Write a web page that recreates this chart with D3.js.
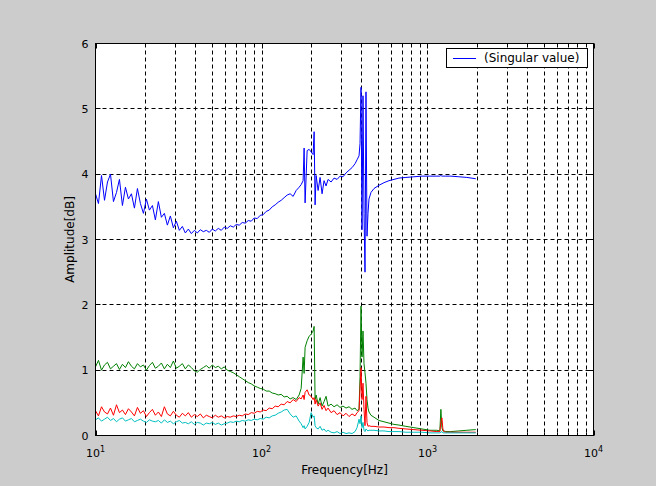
<!DOCTYPE html>
<html><head><meta charset="utf-8">
<script src="https://cdn.jsdelivr.net/npm/d3@7/dist/d3.min.js"></script>
<style>body{margin:0;background:#cccccc;}svg{display:block}</style>
</head><body>
<svg id="chart" width="656" height="486"></svg>
<script>
// ---- data ----
const freq = [
 10,10.42,10.87,11.33,11.81,12.31,12.83,13.38,13.94,14.53,
 15.15,15.79,16.46,17.16,17.89,18.65,19.44,20.26,21.12,22.02,
 22.95,23.92,24.94,26.0,27.1,28.25,29.45,30.7,32.0,33.36,
 34.77,36.25,37.79,39.39,41.06,42.8,44.62,46.51,48.49,50.54,
 52.69,54.92,57.25,59.68,62.22,64.86,67.61,70.47,73.47,76.58,
 79.83,83.22,86.75,90.43,94.27,98.27,102.4,106.7,111.3,116.0,
 120.9,126.0,131.4,136.9,142.7,148.8,155.1,161.7,168.5,
 173.3,178.1,180.6,183.1,188.3,193.6,199.0,204.6,207.5,210.3,
 213.3,219.3,225.4,231.7,238.2,244.9,251.8,262.5,273.6,285.3,
 297.4,309.9,323.1,336.8,351.1,366.0,376.3,386.9,392.2,397.7,
 403.2,408.8,414.5,420.3,426.1,432.1,438.1,444.2,456.6,476.0,
 510.4,546.9,586.2,628.1,673.0,741.6,828.4,925.4,1034,1139,
 1187,1204,1221,1238,1255,1290,1382,1545,1726,1954
];
const singularBlue = [
 3.70,3.55,3.98,3.60,3.88,4.00,3.58,3.72,3.92,3.52,
 3.80,3.62,3.70,3.48,3.78,3.55,3.40,3.62,3.45,3.52,
 3.30,3.58,3.34,3.40,3.22,3.36,3.18,3.28,3.14,3.20,
 3.10,3.16,3.09,3.14,3.10,3.15,3.12,3.14,3.11,3.16,
 3.13,3.17,3.14,3.19,3.17,3.21,3.19,3.23,3.22,3.26,
 3.25,3.29,3.28,3.33,3.32,3.37,3.38,3.43,3.45,3.50,
 3.53,3.57,3.60,3.64,3.68,3.70,3.66,3.75,3.80,
 3.84,3.90,4.40,3.56,4.36,4.38,4.34,4.30,4.65,3.53,
 3.98,3.75,3.95,3.70,3.90,3.82,3.92,3.88,3.94,3.92,
 3.97,3.96,4.02,4.06,4.10,4.16,4.22,4.28,4.47,5.33,
 3.15,5.20,3.40,2.50,5.26,3.05,3.40,3.62,3.72,3.78,
 3.83,3.87,3.90,3.92,3.94,3.95,3.96,3.97,3.97,3.97,
 3.97,3.98,3.97,3.97,3.97,3.97,3.97,3.96,3.95,3.93
];
const singularGreen = [
 1.05,1.15,1.00,1.08,1.12,1.02,1.06,1.10,1.01,1.09,
 1.04,1.13,1.06,1.02,1.10,1.05,1.08,1.00,1.07,1.12,
 1.03,1.06,1.11,1.02,1.09,1.04,1.14,1.03,1.06,1.10,
 1.02,1.08,1.04,0.99,0.97,1.01,1.04,1.07,1.03,1.08,
 1.04,1.06,1.02,1.05,1.00,0.98,0.96,0.93,0.90,0.87,
 0.84,0.81,0.79,0.76,0.74,0.72,0.71,0.68,0.68,0.65,
 0.64,0.62,0.63,0.59,0.60,0.56,0.58,0.55,0.62,
 0.72,1.20,0.95,1.35,1.45,1.52,1.55,1.60,1.67,0.55,
 0.62,0.48,0.58,0.45,0.52,0.60,0.45,0.48,0.44,0.47,
 0.43,0.45,0.42,0.44,0.40,0.42,0.38,0.40,0.90,1.98,
 1.20,1.60,1.10,0.96,0.80,0.55,0.42,0.36,0.31,0.28,
 0.23,0.21,0.19,0.17,0.16,0.14,0.12,0.10,0.08,0.08,
 0.07,0.40,0.12,0.07,0.07,0.06,0.06,0.07,0.08,0.09
];
const singularRed = [
 0.38,0.30,0.44,0.36,0.33,0.42,0.31,0.47,0.35,0.39,
 0.32,0.41,0.36,0.30,0.43,0.34,0.38,0.29,0.35,0.40,
 0.31,0.36,0.29,0.44,0.33,0.30,0.37,0.31,0.28,0.34,
 0.30,0.35,0.28,0.32,0.29,0.33,0.27,0.31,0.29,0.27,
 0.31,0.28,0.30,0.27,0.29,0.28,0.30,0.29,0.31,0.30,
 0.33,0.32,0.35,0.34,0.37,0.36,0.39,0.38,0.42,0.41,
 0.45,0.44,0.48,0.47,0.52,0.50,0.55,0.52,0.58,
 0.56,0.62,0.55,0.66,0.70,0.62,0.60,0.55,0.58,0.48,
 0.55,0.45,0.50,0.40,0.46,0.38,0.42,0.35,0.38,0.32,
 0.35,0.30,0.34,0.29,0.33,0.30,0.35,0.38,0.70,1.04,
 0.55,0.80,0.40,0.15,0.60,0.20,0.14,0.15,0.14,0.14,
 0.13,0.13,0.12,0.12,0.11,0.10,0.09,0.08,0.07,0.06,
 0.06,0.20,0.27,0.10,0.06,0.05,0.05,0.05,0.05,0.05
];
const singularCyan = [
 0.24,0.27,0.22,0.25,0.28,0.23,0.26,0.21,0.25,0.27,
 0.22,0.24,0.26,0.21,0.23,0.25,0.22,0.20,0.24,0.22,
 0.21,0.23,0.19,0.24,0.20,0.22,0.18,0.21,0.23,0.19,
 0.20,0.18,0.21,0.17,0.20,0.19,0.16,0.19,0.18,0.20,
 0.17,0.19,0.16,0.18,0.19,0.21,0.20,0.22,0.21,0.23,
 0.22,0.24,0.23,0.25,0.24,0.26,0.25,0.28,0.27,0.30,
 0.31,0.34,0.36,0.39,0.40,0.33,0.28,0.30,0.22,
 0.18,0.12,0.15,0.10,0.14,0.20,0.35,0.28,0.30,0.15,
 0.12,0.10,0.14,0.08,0.10,0.06,0.08,0.05,0.04,0.06,
 0.03,0.05,0.03,0.04,0.03,0.06,0.12,0.25,0.18,0.30,
 0.12,0.20,0.08,0.06,0.10,0.08,0.07,0.08,0.08,0.08,
 0.07,0.07,0.06,0.06,0.06,0.05,0.05,0.05,0.04,0.04,
 0.04,0.05,0.06,0.04,0.04,0.04,0.04,0.04,0.04,0.04
];
const yTickValues = [0,1,2,3,4,5,6];
const xMajorTicks = [10,100,1000,10000];
const xExponents = ["1","2","3","4"];
const xLabel = "Frequency[Hz]";
const yLabel = "Amplitude[dB]";
const legendLabel = "(Singular value)";

// ---- layout ----
const L = 95.5, R = 593.5, T = 43.5, B = 435.5;
const FONT = "'DejaVu Sans', sans-serif";
const svg = d3.select("#chart");
const x = d3.scaleLog().domain([10, 10000]).range([L, R]);
const y = d3.scaleLinear().domain([0, 6]).range([B, T]);

svg.append("rect").attr("width", 656).attr("height", 486).attr("fill", "#cccccc");
svg.append("rect").attr("x", L).attr("y", T).attr("width", R - L).attr("height", B - T).attr("fill", "#ffffff");

const minorTicks = [];
xMajorTicks.slice(0, 3).forEach(d => { for (let k = 2; k <= 9; k++) minorTicks.push(d * k); });
const gridX = minorTicks.concat([100, 1000]);

const grid = svg.append("g").attr("stroke", "#000").attr("stroke-width", 1).attr("stroke-dasharray", "4,3").attr("fill", "none");
gridX.forEach(v => {
  const px = Math.round(x(v)) + 0.5;
  grid.append("line").attr("x1", px).attr("x2", px).attr("y1", T).attr("y2", B);
});
yTickValues.slice(1, 6).forEach(v => {
  const py = Math.round(y(v) - 0.5) + 0.5;
  grid.append("line").attr("x1", L).attr("x2", R).attr("y1", py).attr("y2", py);
});

const series = [
  {vals: singularBlue, color: "#0000ff"},
  {vals: singularGreen, color: "#008000"},
  {vals: singularRed, color: "#ff0000"},
  {vals: singularCyan, color: "#00bfbf"}
];
const line = d3.line().x((d, i) => x(freq[i])).y(d => y(d));
const plot = svg.append("g");
series.forEach(s => {
  plot.append("path").attr("d", line(s.vals)).attr("fill", "none").attr("stroke", s.color).attr("stroke-width", 1);
});

const ticks = svg.append("g").attr("stroke", "#000").attr("stroke-width", 1);
xMajorTicks.forEach(v => {
  const px = Math.round(x(v)) + 0.5;
  ticks.append("line").attr("x1", px).attr("x2", px).attr("y1", B).attr("y2", B - 5);
  ticks.append("line").attr("x1", px).attr("x2", px).attr("y1", T).attr("y2", T + 5);
});
minorTicks.forEach(v => {
  const px = Math.round(x(v)) + 0.5;
  ticks.append("line").attr("x1", px).attr("x2", px).attr("y1", B).attr("y2", B - 3);
  ticks.append("line").attr("x1", px).attr("x2", px).attr("y1", T).attr("y2", T + 3);
});
yTickValues.forEach(v => {
  const py = Math.round(y(v) - 0.5) + 0.5;
  ticks.append("line").attr("x1", L).attr("x2", L + 5).attr("y1", py).attr("y2", py);
  ticks.append("line").attr("x1", R).attr("x2", R - 5).attr("y1", py).attr("y2", py);
});

svg.append("rect").attr("x", L).attr("y", T).attr("width", R - L).attr("height", B - T)
  .attr("fill", "none").attr("stroke", "#000").attr("stroke-width", 1);

svg.append("g").selectAll("text").data(yTickValues).join("text")
  .attr("x", L - 7).attr("y", d => y(d) + 4)
  .attr("text-anchor", "end").attr("font-family", FONT).attr("font-size", 11).attr("fill", "#000")
  .text(d => d);

const xl = svg.append("g").attr("font-family", FONT).attr("fill", "#000");
xMajorTicks.forEach((v, i) => {
  const t = xl.append("text").attr("x", x(v)).attr("y", 457).attr("text-anchor", "middle").attr("font-size", 11);
  t.append("tspan").text("10");
  t.append("tspan").attr("dy", -5).attr("font-size", 8).text(xExponents[i]);
});

svg.append("text").attr("x", (L + R) / 2).attr("y", 474).attr("text-anchor", "middle")
  .attr("font-family", FONT).attr("font-size", 12).attr("fill", "#000").text(xLabel);
svg.append("text").attr("transform", `translate(74,${(T + B) / 2}) rotate(-90)`).attr("text-anchor", "middle")
  .attr("font-family", FONT).attr("font-size", 12).attr("fill", "#000").text(yLabel);

const lg = svg.append("g");
lg.append("rect").attr("x", 446.5).attr("y", 48.5).attr("width", 141).attr("height", 19)
  .attr("fill", "#fff").attr("stroke", "#000").attr("stroke-width", 1);
lg.append("line").attr("x1", 453).attr("x2", 476).attr("y1", 58.5).attr("y2", 58.5)
  .attr("stroke", series[0].color).attr("stroke-width", 1);
lg.append("text").attr("x", 484).attr("y", 62).attr("font-family", FONT).attr("font-size", 12)
  .attr("fill", "#000").text(legendLabel);
</script>
</body></html>
